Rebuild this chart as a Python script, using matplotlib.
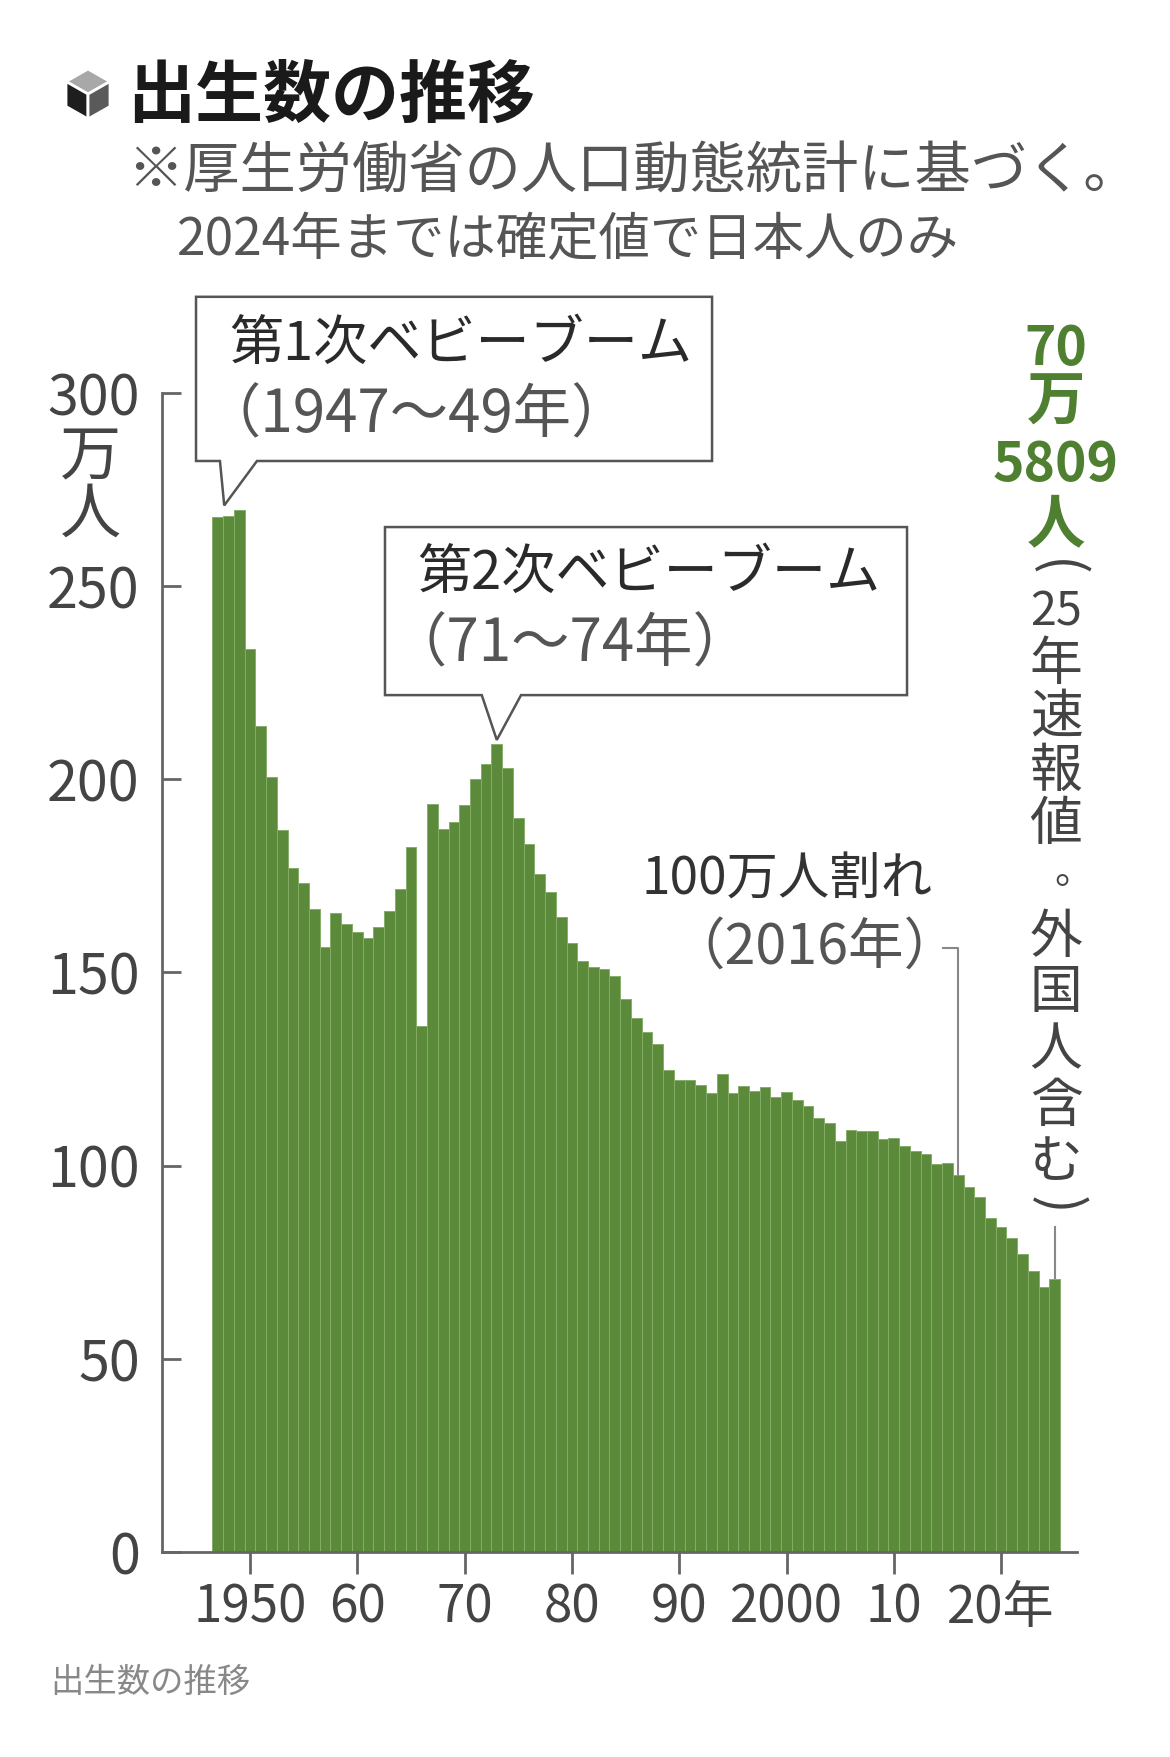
import matplotlib
matplotlib.use("Agg")
import matplotlib.pyplot as plt
from matplotlib import font_manager
from matplotlib.patches import Polygon

# births in Japan (10,000 persons), 1947-2025
years = list(range(1947, 2026))
births = [267.9, 268.2, 269.7, 233.8, 213.8, 200.5, 186.8, 177.0, 173.1, 166.5,
          156.7, 165.3, 162.6, 160.6, 158.9, 161.9, 166.0, 171.7, 182.4, 136.1,
          193.6, 187.2, 188.9, 193.4, 200.1, 203.9, 209.2, 203.0, 190.1, 183.3,
          175.5, 170.9, 164.3, 157.7, 152.9, 151.5, 150.9, 149.0, 143.2, 138.3,
          134.7, 131.4, 124.7, 122.2, 122.3, 120.9, 118.8, 123.8, 118.7, 120.7,
          119.2, 120.3, 117.8, 119.1, 117.1, 115.4, 112.4, 111.1, 106.3, 109.3,
          109.0, 109.1, 107.0, 107.1, 105.1, 103.7, 103.0, 100.4, 100.6, 97.7,
          94.6, 91.8, 86.5, 84.1, 81.2, 77.1, 72.7, 68.6, 70.6]

yticks = [0, 50, 100, 150, 200, 250, 300]
xticks = [1950, 1960, 1970, 1980, 1990, 2000, 2010, 2020]
xticklabels = ["1950", "60", "70", "80", "90", "2000", "10", "20年"]

title = "出生数の推移"
note1 = "※厚生労働省の人口動態統計に基づく。"
note2 = "2024年までは確定値で日本人のみ"
boom1 = ("第1次ベビーブーム", "（1947～49年）")
boom2 = ("第2次ベビーブーム", "（71～74年）")
below1m = ("100万人割れ", "（2016年）")
last_green = ["70", "万", "5809", "人"]
last_gray = ["(", "25", "年", "速", "報", "値", "。", "外", "国", "人", "含", "む", ")"]

JP = "Noto Sans CJK JP"
try:
    font_manager.findfont(font_manager.FontProperties(family="Liberation Sans Narrow"),
                          fallback_to_default=False)
    NUM = ["Liberation Sans Narrow", JP]
    nscale = 1.0
except Exception:
    NUM = [JP]
    nscale = 0.8

plt.rcParams['font.family'] = [JP, 'DejaVu Sans']

W, H = 1170, 1757
fig = plt.figure(figsize=(W / 100, H / 100), dpi=100)


def fx(x):
    return x / W


def fy(y):
    return 1 - y / H


# plot area
ax = fig.add_axes([fx(162), fy(1552), (1077 - 162) / W, (1552 - 393) / H])
green = "#5a8a3a"
ax.bar(years, births, width=1.0, color=green, edgecolor="#85ad68", linewidth=0.7)
ax.set_xlim(1941.8, 2027.07)
ax.set_ylim(0, 300)

for s in ["top", "right"]:
    ax.spines[s].set_visible(False)
for s in ["left", "bottom"]:
    ax.spines[s].set_color("#666666")
    ax.spines[s].set_linewidth(2)

ax.set_yticks(yticks)
ax.set_yticklabels([str(v) for v in yticks], family=NUM, fontsize=50 * nscale, color="#444444")
ax.tick_params(axis="y", direction="in", length=14, width=2, color="#666666", pad=16)
ax.set_xticks(xticks)
ax.set_xticklabels(xticklabels, family=NUM, fontsize=46 * nscale, color="#444444")
ax.tick_params(axis="x", direction="out", length=16, width=2, color="#666666", pad=5)

# unit label
fig.text(fx(90), fy(458), "万", fontsize=44, color="#444444", ha="center", va="center")
fig.text(fx(90), fy(515), "人", fontsize=44, color="#444444", ha="center", va="center")

# title block
fig.text(fx(127), fy(97), title, fontsize=49, weight="bold", color="#1a1a1a", va="center")
fig.text(fx(127), fy(173), note1, fontsize=40.5, color="#555555", va="center")
fig.text(fx(177), fy(240), note2, fontsize=37, color="#555555", va="center")

# cube icon
cx, cy, r = 88, 94, 25
top = (cx, cy - r)
ur = (cx + 22, cy - 12.5)
lr = (cx + 22, cy + 12.5)
bot = (cx, cy + r)
ll = (cx - 22, cy + 12.5)
ul = (cx - 22, cy - 12.5)
ctr = (cx, cy)
for pts, c in [([top, ur, ctr, ul], "#a8a8a8"),
               ([ul, ctr, bot, ll], "#1e1e1e"),
               ([ctr, ur, lr, bot], "#5a5a5a")]:
    fig.patches.append(Polygon([(fx(a), fy(b)) for a, b in pts], closed=True,
                               facecolor=c, edgecolor="white", linewidth=2,
                               transform=fig.transFigure))


def callout(x0, x1, y0, y1, b0, b1, tip):
    pts = [(x0, y1), (x1, y1), (x1, y0), (b1, y0), tip, (b0, y0), (x0, y0)]
    ax.add_patch(Polygon(pts, closed=True, facecolor="white", edgecolor="#555555",
                         linewidth=1.8, clip_on=False, zorder=5))


callout(1944.97, 1993.06, 282.4, 324.9, 1947.2, 1950.65, (1947.6, births[0] + 3))
ax.text(1948.1, 312.7, boom1[0], fontsize=39, color="#2a2a2a", va="center", zorder=6, clip_on=False)
ax.text(1945.6, 294.1, boom1[1], fontsize=42, color="#555555", va="center", zorder=6, clip_on=False)

callout(1962.58, 2011.23, 221.8, 265.3, 1971.6, 1975.26, (1973, births[years.index(1973)] + 1))
ax.text(1965.6, 253.4, boom2[0], fontsize=39, color="#2a2a2a", va="center", zorder=6, clip_on=False)
ax.text(1962.9, 234.8, boom2[1], fontsize=42, color="#555555", va="center", zorder=6, clip_on=False)

# 2016 annotation
ax.text(2013.65, 174, below1m[0], fontsize=37, color="#333333", ha="right", va="center")
ax.text(2016.1, 156.4, below1m[1], fontsize=40, color="#555555", ha="right", va="center")
ax.plot([2014.6, 2016, 2016], [156.4, 156.4, births[years.index(2016)]],
        color="#888888", linewidth=1.5)

# 2025 annotation (vertical text)
ax.plot([2025, 2025], [84.1, births[-1] + 0.3], color="#888888", linewidth=1.5, clip_on=False)
tx = 1056
gy = [350, 403, 466, 525]
for s, y in zip(last_green, gy):
    fam = NUM if s.isdigit() else [JP]
    fs = 48 * nscale if s.isdigit() else 42
    fig.text(fx(tx), fy(y), s, family=fam, fontsize=fs, weight="bold", color="#4f7f30",
             ha="center", va="center")
ry = [568, 612, 664, 718, 771, 825, 872, 937, 993, 1050, 1107, 1162, 1205]
for s, y in zip(last_gray, ry):
    rot = -90 if s in "()" else 0
    dx = 18 if s == "。" else 0
    fam = NUM if s.isdigit() else [JP]
    fs = 42 * nscale if s.isdigit() else 38
    if s in "()":
        fs = 40
    if s == "。":
        fs = 28
    fig.text(fx(tx + dx), fy(y), s, family=fam, fontsize=fs, color="#444444",
             rotation=rot, ha="center", va="center")

# footer caption
fig.text(fx(50), fy(1682), title, fontsize=24, color="#888888", va="center")

fig.savefig("out.png", dpi=100, facecolor="white")
